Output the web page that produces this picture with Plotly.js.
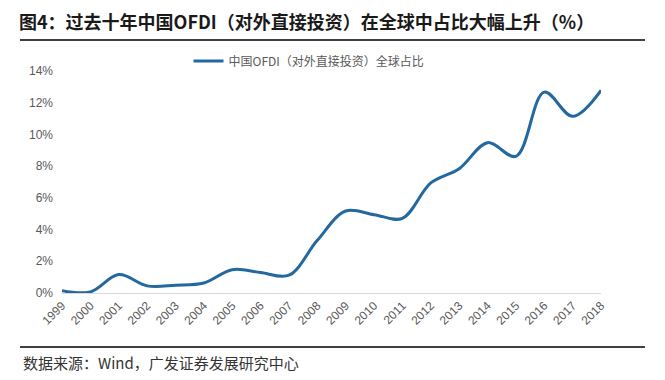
<!DOCTYPE html>
<html>
<head>
<meta charset="utf-8">
<script src="https://cdn.plot.ly/plotly-3.0.1.min.js"></script>
<style>html,body{margin:0;padding:0;background:#fff;}#chart{width:665px;height:380px;}</style>
</head>
<body>
<div id="chart"></div>
<script>
const years = ["1999","2000","2001","2002","2003","2004","2005","2006","2007","2008","2009","2010","2011","2012","2013","2014","2015","2016","2017","2018"];
const share = [0.14,0.07,1.16,0.45,0.49,0.63,1.47,1.29,1.12,3.32,5.17,4.94,4.71,6.94,7.84,9.48,8.62,12.67,11.14,12.78];
const seriesName = "中国OFDI（对外直接投资）全球占比";
const titleText = "图4：过去十年中国OFDI（对外直接投资）在全球中占比大幅上升（%）";
const sourceText = "数据来源：Wind，广发证券发展研究中心";
const yTicks = [0,2,4,6,8,10,12,14];

const trace = {
  x: years, y: share, type: "scatter", mode: "lines", name: seriesName,
  line: {color: "#23689f", width: 3, shape: "spline", smoothing: 1},
  showlegend: true
};

const W = 539, H = 222, L = 62, T = 71;
const px = v => (v - L) / W;
const py = v => (T + H - v) / H;

const layout = {
  width: 665, height: 380,
  margin: {l: 62, r: 64, t: 71, b: 87},
  paper_bgcolor: "#fff", plot_bgcolor: "#fff",
  font: {family: "Liberation Sans, Arial, Noto Sans CJK SC, sans-serif", color: "#595959", size: 12},
  showlegend: true,
  legend: {orientation: "h", x: px(309), xanchor: "center", y: py(61), yanchor: "middle",
    font: {family: "Noto Sans CJK SC, sans-serif", size: 12, color: "#595959"}, bgcolor: "rgba(0,0,0,0)"},
  xaxis: {type: "category", range: [0, 19], autorange: false, showgrid: false, zeroline: false,
    showline: true, linecolor: "#d9d9d9", linewidth: 1, ticks: "", tickangle: -45,
    tickfont: {size: 12, color: "#595959"}, fixedrange: true},
  yaxis: {range: [0, 14], autorange: false, tickvals: yTicks, ticktext: yTicks.map(v => v + "%"),
    showgrid: false, zeroline: false, showline: false, ticks: "", ticklabelstandoff: 8,
    tickfont: {size: 12, color: "#595959"}, fixedrange: true},
  shapes: [
    {type: "line", xref: "paper", yref: "paper", x0: px(20), x1: px(645), y0: py(40), y1: py(40), line: {color: "#000", width: 1.5}},
    {type: "line", xref: "paper", yref: "paper", x0: px(20), x1: px(645), y0: py(347), y1: py(347), line: {color: "#000", width: 1.5}}
  ],
  annotations: [
    {text: "<b>" + titleText + "</b>", xref: "paper", yref: "paper", x: px(17), xanchor: "left",
      y: py(21), yanchor: "middle", showarrow: false,
      font: {family: "Noto Sans CJK SC, sans-serif", size: 18, color: "#1a1a1a"}},
    {text: sourceText, xref: "paper", yref: "paper", x: px(21), xanchor: "left",
      y: py(362), yanchor: "middle", showarrow: false,
      font: {family: "Noto Sans CJK SC, Liberation Sans, sans-serif", size: 15, color: "#333"}}
  ]
};

Plotly.newPlot("chart", [trace], layout, {staticPlot: true, displayModeBar: false});
</script>
</body>
</html>
